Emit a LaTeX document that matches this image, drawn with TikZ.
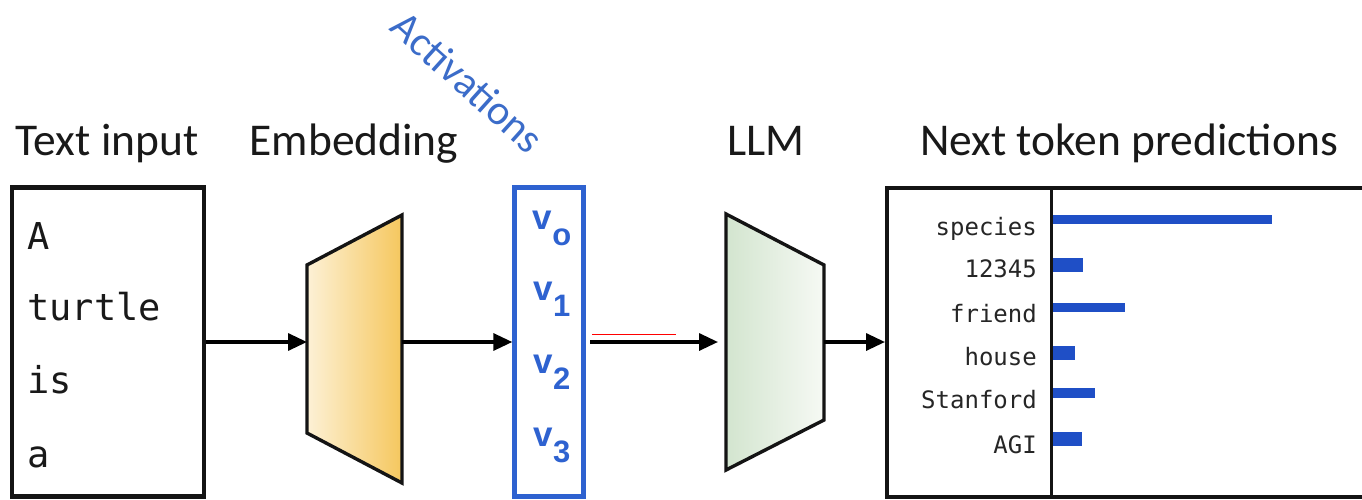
\documentclass[tikz,border=0pt]{standalone}
\usepackage{fontspec}
\setmainfont{Carlito}
\newfontfamily\monofnt{DejaVu Sans Mono}
\newfontfamily\boldsans{Liberation Sans}
\usetikzlibrary{arrows.meta}
\definecolor{actblue}{HTML}{2E62D0}
\definecolor{bartone}{HTML}{1F4FC6}
\definecolor{labblue}{HTML}{3B6CC9}
\definecolor{embL}{HTML}{FDF1D6}
\definecolor{embR}{HTML}{F5C75E}
\definecolor{llmL}{HTML}{D3E5CF}
\definecolor{llmR}{HTML}{F6F9F4}
\tikzset{
  title/.style={font=\fontsize{45.5}{50}\selectfont, anchor=base, inner sep=0, text=black!90},
  inword/.style={font=\monofnt\fontsize{37}{40}\selectfont, anchor=base west, inner sep=0, text=black!90},
  tok/.style={font=\monofnt\fontsize{24}{28}\selectfont, anchor=base east, inner sep=0, text=black!85},
  vlab/.style={font=\boldsans\bfseries\fontsize{35}{38}\selectfont, text=actblue, anchor=base, inner sep=0},
  flow/.style={line width=3.3pt, -{Triangle[length=19pt,width=17pt]}},
  boxline/.style={line width=4.6pt, draw=black!92},
  trap/.style={line width=3.4pt, line join=miter, draw=black!92},
  bar/.style={fill=bartone, draw=none}
}
\newcommand{\vsub}[1]{v\raisebox{-16pt}{\fontsize{31}{33}\selectfont #1}}
\begin{document}
\begin{tikzpicture}[x=1pt,y=-1pt]
\useasboundingbox (0,0) rectangle (1362,500);
\fill[white] (0,0) rectangle (1362,500);

% titles
\node[title] (t1) at (107,155) {Text input};
\node[title] (t2) at (354,155) {Embedding};
\node[title] (t3) at (766,155) {LLM};
\node[title] (t4) at (1129,155) {Next token predictions};
\node[font=\fontsize{42}{46}\selectfont, text=labblue, rotate=-42, inner sep=0] (tact) at (468,82) {Activations};

% text input box
\node[boxline, draw, minimum width=192pt, minimum height=309pt, inner sep=0] (inp) at (108,342) {};
\node[inword] (w1) at (27,249) {A};
\node[inword] (w2) at (27,320) {turtle};
\node[inword] (w3) at (27,393) {is};
\node[inword] (w4) at (27,467) {a};

% embedding trapezoid
\shade[left color=embL, right color=embR] (307,265) -- (402,215) -- (402,483) -- (307,433) -- cycle;
\draw[trap] (307,265) -- (402,215) -- (402,483) -- (307,433) -- cycle;
\coordinate (embin) at (307,342);
\coordinate (embout) at (402,342);

% activations box
\node[draw=actblue, line width=4.4pt, minimum width=69pt, minimum height=309pt, inner sep=0] (act) at (549,342) {};
\node[vlab] (v0) at (552,229) {\vsub{o}};
\node[vlab] (v1) at (552,300) {\vsub{1}};
\node[vlab] (v2) at (552,373) {\vsub{2}};
\node[vlab] (v3) at (552,446) {\vsub{3}};
\coordinate (actout) at (590,342);

% LLM trapezoid
\shade[left color=llmL, right color=llmR] (726,214) -- (824,265) -- (824,420) -- (726,470) -- cycle;
\draw[trap] (726,214) -- (824,265) -- (824,420) -- (726,470) -- cycle;
\coordinate (llmin) at (718,342);
\coordinate (llmout) at (824,342);

% prediction box
\draw[boxline] (1362,188) -- (887,188) -- (887,497) -- (1362,497);
\draw[line width=3pt, draw=black!92] (1051,188) -- (1051,497);
\coordinate (predin) at (885,342);

\node[tok] (p1) at (1037,235) {species};
\node[tok] (p2) at (1037,277) {12345};
\node[tok] (p3) at (1037,322) {friend};
\node[tok] (p4) at (1037,365) {house};
\node[tok] (p5) at (1037,408) {Stanford};
\node[tok] (p6) at (1037,453) {AGI};

\fill[bar] (1053,215) rectangle (1272,224);
\fill[bar] (1053,258) rectangle (1083,272);
\fill[bar] (1053,303) rectangle (1125,312);
\fill[bar] (1053,346) rectangle (1075,360);
\fill[bar] (1053,388) rectangle (1095,398);
\fill[bar] (1053,432) rectangle (1082,446);

% connectors
\draw[flow] (inp.east) -- (embin);
\draw[flow] (embout) -- (act.west);
\draw[flow] (actout) -- (llmin);
\draw[red, line width=0.7pt] (592,334) -- (676,334);
\draw[flow] (llmout) -- (predin);
\end{tikzpicture}
\end{document}
